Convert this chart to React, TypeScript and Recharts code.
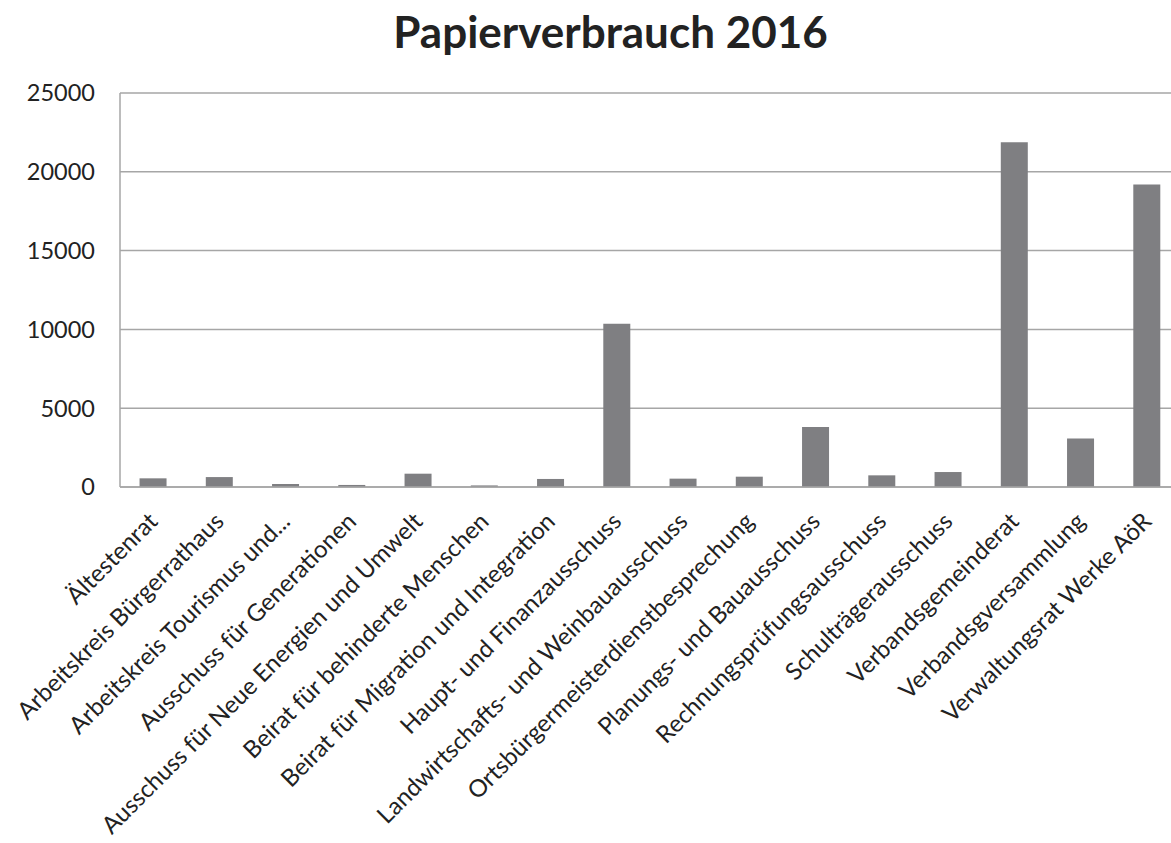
import React from "react";
import { BarChart, Bar, XAxis, YAxis, CartesianGrid } from "recharts";

const categories = [
  "Ältestenrat",
  "Arbeitskreis Bürgerrathaus",
  "Arbeitskreis Tourismus und...",
  "Ausschuss für Generationen",
  "Ausschuss für Neue Energien und Umwelt",
  "Beirat für behinderte Menschen",
  "Beirat für Migration und Integration",
  "Haupt- und Finanzausschuss",
  "Landwirtschafts- und Weinbauausschuss",
  "Ortsbürgermeisterdienstbesprechung",
  "Planungs- und Bauausschuss",
  "Rechnungsprüfungsausschuss",
  "Schulträgerausschuss",
  "Verbandsgemeinderat",
  "Verbandsgversammlung",
  "Verwaltungsrat Werke AöR",
];
const values = [550, 630, 190, 130, 845, 100, 510, 10360, 530, 655, 3810, 740, 950, 21870, 3070, 19200];
const yTicks = [0, 5000, 10000, 15000, 20000, 25000];
const title = "Papierverbrauch 2016";

const data = categories.map((name, i) => ({ name, value: values[i] }));

const FONT = "Lato, 'Open Sans', sans-serif";

const XTick = (props: any) => {
  const { x, y, payload } = props;
  const ax = x;
  const ay = y + 22;
  return (
    <text
      x={ax}
      y={ay}
      dy="0.35em"
      textAnchor="end"
      transform={`rotate(-45, ${ax}, ${ay})`}
      fontFamily={FONT}
      fontSize={24}
      fill="#222"
    >
      {payload.value}
    </text>
  );
};

export default function App() {
  return (
    <div style={{ position: "absolute", left: 0, top: 0, width: 1171, height: 843, overflow: "hidden", background: "#fff" }}>
      <div
        style={{
          position: "absolute",
          left: 0,
          top: 0,
          width: 1171,
          textAlign: "center",
          fontFamily: FONT,
          fontWeight: 700,
          fontSize: 44,
          color: "#222",
          lineHeight: "44px",
          paddingTop: 9,
          paddingLeft: 50,
          boxSizing: "border-box",
        }}
      >
        {title}
      </div>
      <div style={{ position: "absolute", left: 0, top: 0 }}>
        <BarChart
          width={1190}
          height={843}
          data={data}
          margin={{ top: 93, right: 10, bottom: 0, left: 0 }}
          barCategoryGap="29.5%"
        >
          <CartesianGrid vertical={false} stroke="#a6a6a6" strokeWidth={1.5} />
          <XAxis
            dataKey="name"
            interval={0}
            tick={<XTick />}
            tickLine={false}
            axisLine={{ stroke: "#a6a6a6", strokeWidth: 1.5 }}
            height={356}
          />
          <YAxis
            domain={[0, 25000]}
            ticks={yTicks}
            width={120}
            tickLine={false}
            tickSize={0}
            tickMargin={25}
            axisLine={{ stroke: "#a6a6a6", strokeWidth: 1.5 }}
            tick={{ fontFamily: FONT, fontSize: 23.5, fill: "#222" }}
          />
          <Bar dataKey="value" fill="#7f7f82" isAnimationActive={false} />
        </BarChart>
      </div>
    </div>
  );
}
